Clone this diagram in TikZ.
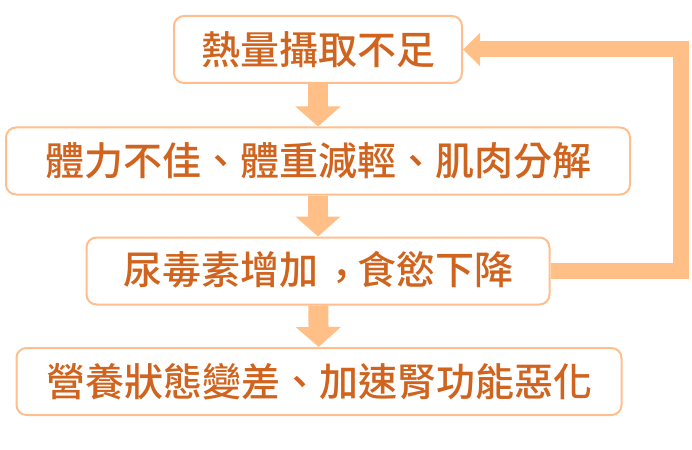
\documentclass[tikz,border=0pt]{standalone}
\usepackage{fontspec}
\usepackage{tikz}
\usetikzlibrary{arrows.meta}
\newfontfamily\cjkfont{Noto Sans CJK TC}[BoldFont={Noto Sans CJK TC Medium}]
\newcommand{\midcomma}{\makebox[39pt][l]{\hspace{4pt}\raisebox{-6pt}{，}}}
\definecolor{boxline}{RGB}{255,190,140}
\definecolor{arrowfill}{RGB}{255,191,135}
\definecolor{textorange}{RGB}{208,100,30}
\tikzset{
    box/.style={rectangle,draw=boxline,line width=2pt,fill=white,rounded corners=10pt,
        minimum height=67pt,inner sep=0pt,text=textorange,font=\cjkfont\bfseries\fontsize{39}{44}\selectfont},
    down/.style={draw=arrowfill,line width=20pt,arrows={-Triangle[width=44pt,length=20pt,fill=arrowfill]}},
    back/.style={draw=arrowfill,line width=16pt,arrows={-Triangle[width=32pt,length=17pt,fill=arrowfill]}},
    }
\begin{document}
\begin{tikzpicture}[x=1pt,y=-1pt]
    \useasboundingbox (0,0) rectangle (692,449);
		\node[box,minimum width=288pt] (heat) at (318,49.5) {熱量攝取不足};
		\node[box,minimum width=624pt] (body) at (318,161) {體力不佳、體重減輕、肌肉分解};
		\node[box,minimum width=463pt] (urea) at (318,271) {尿毒素增加\midcomma 食慾下降};
		\node[box,minimum width=605pt] (worse) at (319,381.5) {營養狀態變差、加速腎功能惡化};

		\coordinate (turn) at (680.5,0);

	\draw[down] (heat) -- (body);
	\draw[down] (body) -- (urea);
	\draw[down] (urea) -- (worse);

	\draw[back] (urea.east) -- (urea.east -| turn) -- (heat.east -| turn) -- (heat.east);
\end{tikzpicture}
\end{document}
